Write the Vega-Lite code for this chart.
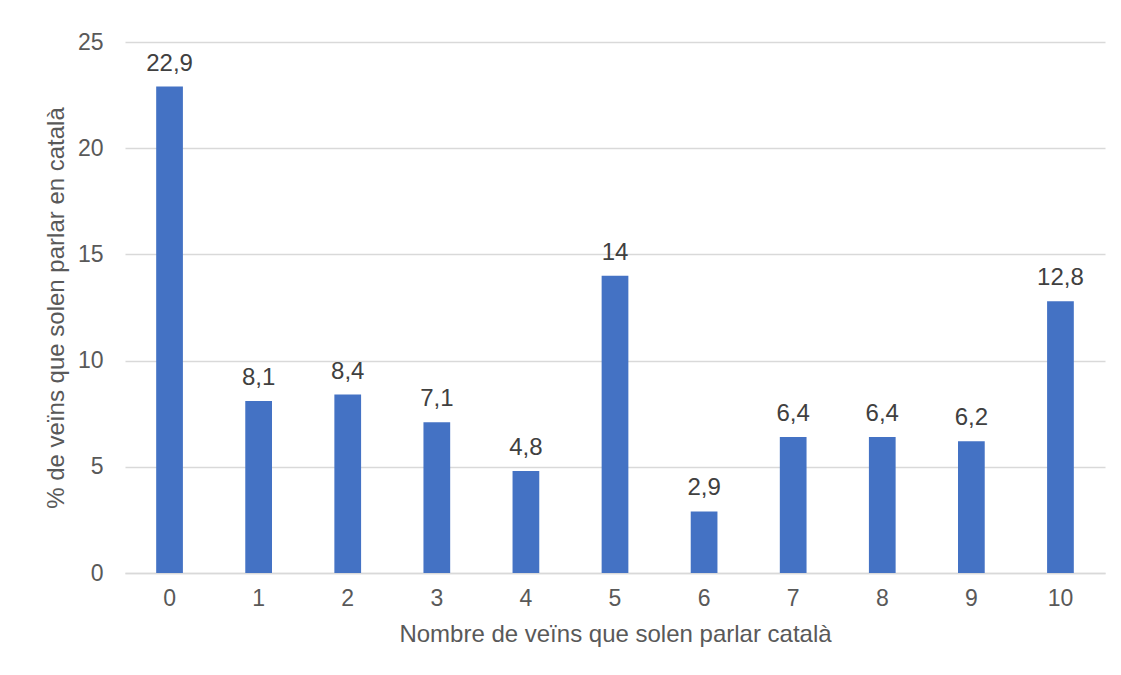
{
  "$schema": "https://vega.github.io/schema/vega-lite/v6.json",
  "width": 980,
  "height": 531,
  "autosize": {"type": "none"},
  "padding": {"left": 125, "top": 42, "right": 16, "bottom": 102},
  "background": "white",
  "config": {
    "font": "Liberation Sans",
    "view": {"stroke": null},
    "locale": {"number": {"decimal": ",", "thousands": ".", "grouping": [3], "currency": ["", " €"]}}
  },
  "data": {
    "values": [
      {"n": "0", "pct": 22.9},
      {"n": "1", "pct": 8.1},
      {"n": "2", "pct": 8.4},
      {"n": "3", "pct": 7.1},
      {"n": "4", "pct": 4.8},
      {"n": "5", "pct": 14},
      {"n": "6", "pct": 2.9},
      {"n": "7", "pct": 6.4},
      {"n": "8", "pct": 6.4},
      {"n": "9", "pct": 6.2},
      {"n": "10", "pct": 12.8}
    ]
  },
  "encoding": {
    "x": {
      "field": "n", "type": "ordinal", "sort": null,
      "scale": {"paddingInner": 0.7, "paddingOuter": 0.35},
      "axis": {
        "title": "Nombre de veïns que solen parlar català",
        "labelAngle": 0, "labelFontSize": 23, "labelColor": "#595959", "labelPadding": 14,
        "ticks": false, "domainColor": "#d9d9d9", "domainWidth": 1.5,
        "titleFontSize": 24, "titleFontWeight": "normal", "titleColor": "#595959", "titlePadding": 12
      }
    },
    "y": {
      "field": "pct", "type": "quantitative",
      "scale": {"domain": [0, 25]},
      "axis": {
        "title": "% de veïns que solen parlar en català",
        "values": [0, 5, 10, 15, 20, 25],
        "labelFontSize": 23, "labelColor": "#595959", "labelPadding": 22,
        "ticks": false, "domain": false, "gridColor": "#d9d9d9", "gridWidth": 1.5,
        "titleFontSize": 24, "titleFontWeight": "normal", "titleColor": "#595959", "titlePadding": 9
      }
    }
  },
  "layer": [
    {"mark": {"type": "bar", "color": "#4472c4"}},
    {
      "mark": {"type": "text", "baseline": "bottom", "dy": -11, "fontSize": 24, "color": "#404040"},
      "encoding": {"text": {"field": "pct", "type": "quantitative", "format": ".1~f"}}
    }
  ]
}
